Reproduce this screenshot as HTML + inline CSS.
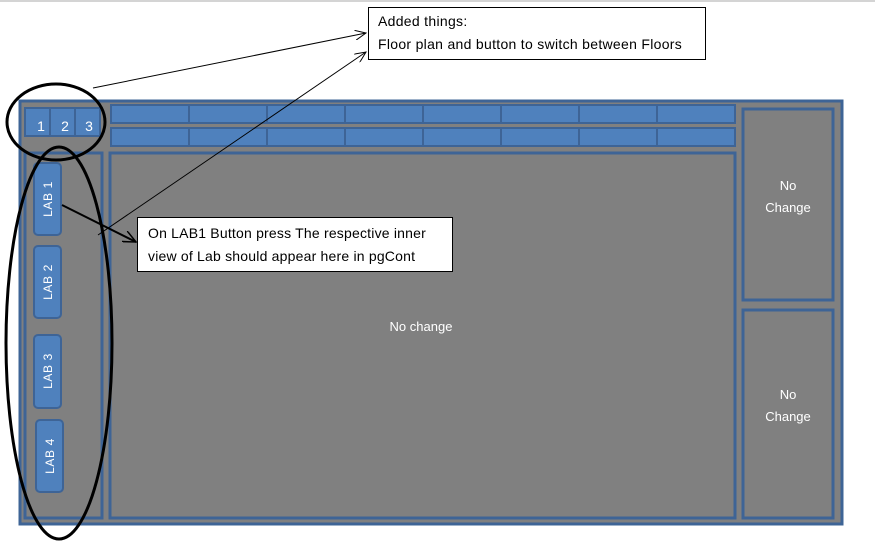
<!DOCTYPE html>
<html><head><meta charset="utf-8"><style>
html,body{margin:0;padding:0;background:#fff;width:875px;height:545px;overflow:hidden}
svg{display:block}
text{font-family:"Liberation Sans",sans-serif}
</style></head><body>
<svg width="875" height="545" viewBox="0 0 875 545" xmlns="http://www.w3.org/2000/svg">
<defs>
<marker id="a" markerWidth="12" markerHeight="10" refX="11" refY="5" orient="auto" markerUnits="userSpaceOnUse"><path d="M0,0 L11,5 L0,10" fill="none" stroke="#000" stroke-width="1"/></marker>
<marker id="b" markerWidth="14" markerHeight="12" refX="13" refY="6" orient="auto" markerUnits="userSpaceOnUse"><path d="M0,0 L13,6 L0,12" fill="none" stroke="#000" stroke-width="1.5"/></marker>
</defs>
<rect x="0" y="0" width="875" height="2" fill="#d4d4d4"/>
<rect x="20" y="101" width="822" height="423" fill="#808080" stroke="#3e6496" stroke-width="3"/>
<g fill="#4f81bd" stroke="#3e6496" stroke-width="2">
<rect x="25" y="108" width="25" height="28"/><rect x="50" y="108" width="25" height="28"/><rect x="75" y="108" width="25" height="28"/>
</g>
<g fill="#fff" font-size="14" text-anchor="middle"><text x="41" y="131">1</text><text x="65" y="131">2</text><text x="89" y="131">3</text></g>
<g fill="#4f81bd" stroke="#3e6496" stroke-width="2">
<rect x="111" y="105" width="78" height="18"/><rect x="189" y="105" width="78" height="18"/><rect x="267" y="105" width="78" height="18"/><rect x="345" y="105" width="78" height="18"/><rect x="423" y="105" width="78" height="18"/><rect x="501" y="105" width="78" height="18"/><rect x="579" y="105" width="78" height="18"/><rect x="657" y="105" width="78" height="18"/>
<rect x="111" y="128" width="78" height="18"/><rect x="189" y="128" width="78" height="18"/><rect x="267" y="128" width="78" height="18"/><rect x="345" y="128" width="78" height="18"/><rect x="423" y="128" width="78" height="18"/><rect x="501" y="128" width="78" height="18"/><rect x="579" y="128" width="78" height="18"/><rect x="657" y="128" width="78" height="18"/>
</g>
<g fill="none" stroke="#3e6496" stroke-width="3">
<rect x="25" y="153" width="77" height="365"/>
<rect x="110" y="153" width="625" height="365"/>
<rect x="743" y="109" width="90" height="191"/>
<rect x="743" y="310" width="90" height="208"/>
</g>
<g fill="#4f81bd" stroke="#3e6496" stroke-width="2">
<rect x="34" y="163" width="27" height="72" rx="4"/>
<rect x="34" y="246" width="27" height="72" rx="4"/>
<rect x="34" y="335" width="27" height="73" rx="4"/>
<rect x="36" y="420" width="27" height="72" rx="4"/>
</g>
<g fill="#fff" font-size="12" text-anchor="middle" letter-spacing="0.6">
<text transform="translate(52,199) rotate(-90)">LAB  1</text>
<text transform="translate(52,282) rotate(-90)">LAB  2</text>
<text transform="translate(52,371) rotate(-90)">LAB  3</text>
<text transform="translate(54,456) rotate(-90)">LAB  4</text>
</g>
<g fill="#fff" font-size="13" text-anchor="middle">
<text x="421" y="331">No change</text>
<text x="788" y="190">No</text><text x="788" y="212">Change</text>
<text x="788" y="399">No</text><text x="788" y="421">Change</text>
</g>
<ellipse cx="56" cy="122" rx="49" ry="38" fill="none" stroke="#000" stroke-width="3"/>
<ellipse cx="59" cy="343" rx="53" ry="196" fill="none" stroke="#000" stroke-width="3"/>
<rect x="368.5" y="7.5" width="337" height="52" fill="#fff" stroke="#000" stroke-width="1"/>
<g font-size="14" letter-spacing="0.3">
<text x="378" y="26">Added things:</text>
<text x="378" y="49">Floor plan and button  to switch between Floors</text>
</g>
<rect x="137.5" y="217.5" width="315" height="54" fill="#fff" stroke="#000" stroke-width="1"/>
<g font-size="14" letter-spacing="0.2">
<text x="148" y="238">On LAB1 Button press The respective inner</text>
<text x="148" y="261">view of Lab should appear here in pgCont</text>
</g>
<line x1="93" y1="88" x2="366" y2="33" stroke="#000" stroke-width="1" marker-end="url(#a)"/>
<line x1="98" y1="235" x2="366" y2="52" stroke="#000" stroke-width="1" marker-end="url(#a)"/>
<line x1="62" y1="205" x2="136" y2="242" stroke="#000" stroke-width="2" marker-end="url(#b)"/>
</svg>
</body></html>
